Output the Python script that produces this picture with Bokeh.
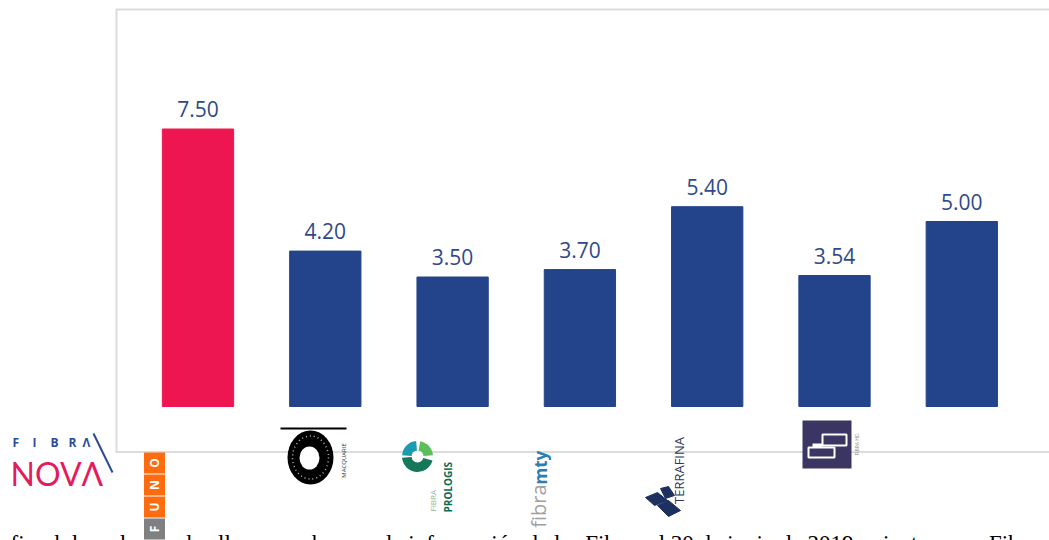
import numpy as np
from bokeh.plotting import figure
from bokeh.models import Range1d
from bokeh.core.properties import value
from bokeh.embed import file_html
from bokeh.resources import INLINE

# ---------------- data ----------------
categories = ["Fibra Nova", "FUNO", "Fibra Macquarie", "Fibra Prologis",
              "Fibra MTY", "Terrafina", "Fibra HD"]
values = [7.50, 4.20, 3.50, 3.70, 5.40, 3.54, 5.00]
highlight = "Fibra Nova"
value_labels = [f"{v:.2f}" for v in values]
footnote = ("fiscal de cada una de ellas y con base en la información de las "
            "Fibras al 30 de junio de 2019, mientras que Fibra")

RED = "#ee1651"
NAVY = "#23448a"
LABEL = "#2f4a8a"
BORDER = "#dcdcdc"

# -------- page-pixel helpers (decoration placement only) --------
PX_PER_CAT = 127.3
PX_PER_UNIT = 37.0
X0_PAGE = 197.5      # centre of first category on the page
Y0_PAGE = 406.0      # zero line on the page
W, H = 1049, 540


def X(px):
    return (px - X0_PAGE) / PX_PER_CAT


def Y(py):
    return (Y0_PAGE - py) / PX_PER_UNIT


xpos = list(range(len(categories)))
colors = [RED if c == highlight else NAVY for c in categories]

p = figure(width=W, height=H,
           x_range=Range1d(X(0), X(W)), y_range=Range1d(Y(H), Y(0)),
           output_backend="svg", toolbar_location=None,
           x_axis_location=None, y_axis_location=None,
           min_border=0, outline_line_color=None)
p.grid.visible = False
p.background_fill_color = "white"

# chart frame (top, left, bottom; right side runs off the page)
p.segment(x0=[X(115), X(116), X(115)], y0=[Y(9), Y(9), Y(451.5)],
          x1=[X(1049), X(116), X(1049)], y1=[Y(9), Y(451.5), Y(451.5)],
          line_color=BORDER, line_width=2)

# bars
p.vbar(x=xpos, top=values, bottom=0, width=0.56,
       fill_color=colors, line_color=colors)

# value labels
p.text(x=xpos, y=values, text=value_labels, text_align="center",
       text_baseline="alphabetic", y_offset=-20,
       text_font=value("Open Sans"), text_font_size="21px", text_color=LABEL)

# ---------------- logos (approximations) ----------------
# FIBRA NOVA
p.text(x=[X(12), X(32), X(50), X(68), X(82)], y=[Y(442)] * 5,
       text=list("FIBRΛ"), text_font=value("Open Sans"), text_font_style="bold",
       text_font_size="12px", text_color="#2d4a94", text_baseline="alphabetic")
p.text(x=[X(10)], y=[Y(473)], text=["NOVΛ"], text_font=value("Lato"),
       text_font_size="32px", text_color="#e31c5f", text_baseline="alphabetic")
p.segment(x0=[X(93)], y0=[Y(433)], x1=[X(112)], y1=[Y(472)],
          line_color="#2d4a94", line_width=2)

# FUNO
funo_y = [462.5, 484.5, 506.5, 528.5]
p.rect(x=[X(154)] * 4, y=[Y(v) for v in funo_y], width=21, height=21,
       width_units="screen", height_units="screen",
       fill_color=["#ff6b0f", "#ff6b0f", "#ff6b0f", "#808080"], line_color=None)
p.text(x=[X(154)] * 4, y=[Y(v) for v in funo_y], text=["O", "N", "U", "F"],
       angle=np.pi / 2, text_align="center", text_baseline="middle",
       text_font=value("Open Sans"), text_font_style="bold",
       text_font_size="12px", text_color="white")

# Macquarie
p.segment(x0=[X(280)], y0=[Y(428)], x1=[X(346)], y1=[Y(428)],
          line_color="black", line_width=2)
p.ellipse(x=[X(310)], y=[Y(457)], width=46, height=54,
          width_units="screen", height_units="screen",
          fill_color="black", line_color=None)
p.ellipse(x=[X(310)], y=[Y(457)], width=36, height=43,
          width_units="screen", height_units="screen",
          fill_color=None, line_color="#bbbbbb", line_width=1.5, line_dash="1 3")
p.ellipse(x=[X(309)], y=[Y(457.5)], width=20, height=23,
          width_units="screen", height_units="screen",
          fill_color="white", line_color=None)
p.text(x=[X(343)], y=[Y(460)], text=["MACQUARIE"], angle=np.pi / 2,
       text_align="center", text_baseline="alphabetic",
       text_font=value("Open Sans"), text_font_size="6px", text_color="#333333")

# Prologis
gx, gy = X(417), Y(456)
p.wedge(x=[gx], y=[gy], radius=15.5, radius_units="screen",
        start_angle=np.radians(185), end_angle=np.radians(345),
        fill_color="#16785a", line_color=None)
p.wedge(x=[gx], y=[gy], radius=15.5, radius_units="screen",
        start_angle=np.radians(95), end_angle=np.radians(175),
        fill_color="#1b9ab0", line_color=None)
p.wedge(x=[gx], y=[gy], radius=15.5, radius_units="screen",
        start_angle=np.radians(5), end_angle=np.radians(80),
        fill_color="#5cc05a", line_color=None)
p.scatter(x=[gx], y=[gy], size=12, fill_color="white", line_color=None)
p.text(x=[X(432)], y=[Y(511)], text=["FIBRA"], angle=np.pi / 2,
       text_align="left", text_baseline="alphabetic",
       text_font=value("Open Sans"), text_font_size="8px", text_color="#8fb8a0")
p.text(x=[X(447)], y=[Y(512)], text=["PROLOGIS"], angle=np.pi / 2,
       text_align="left", text_baseline="alphabetic",
       text_font=value("Open Sans"), text_font_style="bold",
       text_font_size="10px", text_color="#0d6b4f")

# Fibra MTY
p.text(x=[X(538)], y=[Y(484)], text=["fibra"], angle=np.pi / 2,
       text_align="right", text_baseline="alphabetic",
       text_font=value("Open Sans"), text_font_size="20px", text_color="#a0a0a0")
p.text(x=[X(540)], y=[Y(484)], text=["mty"], angle=np.pi / 2,
       text_align="left", text_baseline="alphabetic",
       text_font=value("Open Sans"), text_font_style="bold",
       text_font_size="17px", text_color="#2a7fb0")

# Terrafina
p.text(x=[X(678)], y=[Y(470)], text=["TERRAFINA"], angle=np.pi / 2,
       text_align="center", text_baseline="alphabetic",
       text_font=value("Open Sans"), text_font_size="13px", text_color="#2b3a5c")
tf_x = [[645, 657, 667, 654], [657, 668, 680, 668], [660, 668, 674, 665]]
tf_y = [[497, 492, 500, 505], [505, 500, 510, 516], [488, 486, 495, 498]]
p.patches(xs=[[X(v) for v in r] for r in tf_x],
          ys=[[Y(v) for v in r] for r in tf_y],
          fill_color="#1d3160", line_color="#1d3160")

# Fibra HD
p.quad(left=[X(802)], right=[X(851)], top=[Y(420)], bottom=[Y(468)],
       fill_color="#3b3563", line_color=None)
p.quad(left=[X(822)], right=[X(846)], top=[Y(434)], bottom=[Y(445)],
       fill_color=None, line_color="white", line_width=2)
p.quad(left=[X(808)], right=[X(834)], top=[Y(447)], bottom=[Y(457)],
       fill_color=None, line_color="white", line_width=2)
p.quad(left=[X(812)], right=[X(822)], top=[Y(443)], bottom=[Y(447)],
       fill_color="white", line_color=None)
p.text(x=[X(856)], y=[Y(444)], text=["FIBRA HD"], angle=np.pi / 2,
       text_align="center", text_baseline="alphabetic",
       text_font=value("Open Sans"), text_font_size="5px", text_color="#888888")

# footnote text (cut off by the page bottom, as in the reference)
p.text(x=[X(10)], y=[Y(538)], text=[footnote], text_align="left",
       text_baseline="alphabetic", y_offset=5,
       text_font=value("Liberation Serif"),
       text_font_size="23px", text_color="black")

open("out.html", "w").write(file_html(p, INLINE))
